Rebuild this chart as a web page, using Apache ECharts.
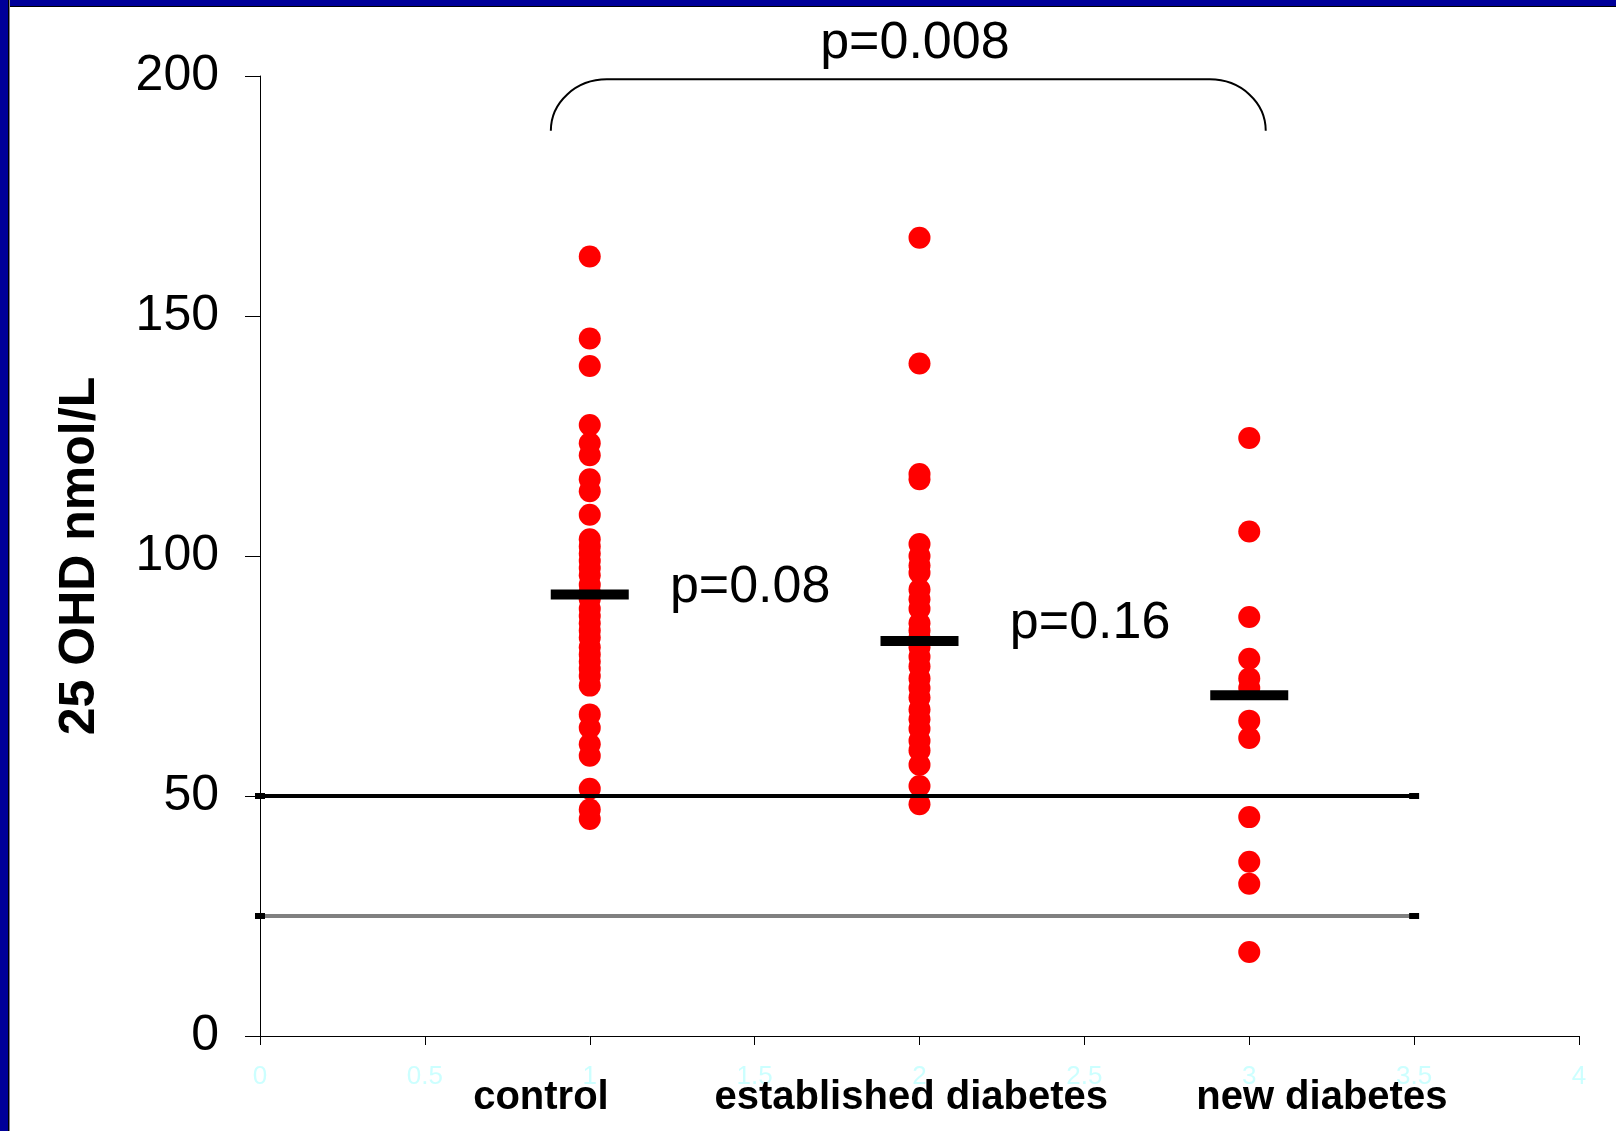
<!DOCTYPE html>
<html>
<head>
<meta charset="utf-8">
<title>25 OHD nmol/L</title>
<script src="https://cdn.jsdelivr.net/npm/echarts@6/dist/echarts.min.js"></script>
<style>
  html, body { margin: 0; padding: 0; background: #fff; }
  #chart { position: absolute; left: 0; top: 0; width: 1616px; height: 1131px; }
  .frame-top { position: absolute; left: 0; top: 0; width: 1616px; height: 6px; background: #000099; border-bottom: 1px solid #000; }
  .frame-left { position: absolute; left: 0; top: 0; width: 8px; height: 1131px; background: #000099; border-right: 1px solid #000; box-shadow: 1px 0 0 #888; }
</style>
</head>
<body>
<div id="chart"></div>
<div class="frame-top"></div>
<div class="frame-left"></div>
<script>
// group positions on the x axis and their names
const groupX = [1, 2, 3];
const groupNames = ['control', 'established diabetes', 'new diabetes'];
const groupNamePos = [0.852, 1.975, 3.22];

// 25 OHD values, nmol/L
const controlValues = [162.4, 145.3, 139.6, 127.3, 123.5, 121, 116, 113.5, 108.6,
  103.5, 102, 100.5, 99, 97.5, 96, 94, 92.5, 91, 89, 87.5, 86, 84.5, 83, 81, 79.5, 78, 76.5, 75, 73,
  67, 64.2, 60.8, 58.4, 51.5, 47.2, 45.2];
const establishedValues = [166.3, 140.1, 117.1, 116,
  102.5, 100, 98, 96.5, 93, 91, 89, 86, 84.5, 83, 81, 79, 77, 74.5, 72.5, 70.5, 68, 66, 64, 61.5, 59.5, 56.5,
  52.1, 48.3];
const newValues = [124.6, 105.1, 87.3, 78.6, 74.5, 72.5, 65.7, 62.1, 45.6, 36.3, 31.7, 17.5];

// group means (black bars)
const groupMeans = [92, 82.3, 71];

// reference lines
const refLineEnds = [0, 3.5];
const refLevels = [50, 25];

// bracket between control and new diabetes: [left x, right x, bottom y, top y]
const bracket = [0.882, 3.05, 188.6, 199.3];

// p-value annotations
const pTexts = ['p=0.008', 'p=0.08', 'p=0.16'];
const pX = [1.986, 1.243, 2.274];
const pY = [206.8, 93.5, 85.9];
const pAlign = ['center', 'left', 'left'];

const allGroups = [controlValues, establishedValues, newValues];
const pointData = [];
allGroups.forEach((vals, i) => {
  vals.forEach(v => pointData.push([groupX[i], v]));
});

const font = "'Liberation Sans', Arial, sans-serif";

const chart = echarts.init(document.getElementById('chart'), null, { renderer: 'canvas' });
chart.setOption({
  animation: false,
  backgroundColor: '#ffffff',
  grid: { left: 260, right: 37, top: 76, bottom: 95 },
  xAxis: [{
    type: 'value',
    min: 0,
    max: 4,
    interval: 0.5,
    splitLine: { show: false },
    axisLine: { show: true, onZero: false, lineStyle: { color: '#000', width: 1 } },
    axisTick: { show: true, length: 9, lineStyle: { color: '#000' } },
    axisLabel: {
      color: '#ccffff',
      fontFamily: font,
      fontSize: 26,
      margin: 28,
      formatter: v => String(v)
    }
  }, {
    type: 'value',
    min: 0,
    max: 4,
    position: 'bottom',
    splitLine: { show: false },
    axisLine: { show: false },
    axisTick: { show: false },
    axisLabel: {
      customValues: groupNamePos,
      color: '#000',
      fontFamily: font,
      fontWeight: 'bold',
      fontSize: 40,
      margin: 42,
      formatter: v => {
        let best = 0;
        groupNamePos.forEach((p, i) => {
          if (Math.abs(p - v) < Math.abs(groupNamePos[best] - v)) best = i;
        });
        return groupNames[best];
      }
    }
  }],
  yAxis: {
    type: 'value',
    min: 0,
    max: 200,
    interval: 50,
    name: '25 OHD nmol/L',
    nameLocation: 'middle',
    nameRotate: 90,
    nameGap: 155,
    nameTextStyle: { color: '#000', fontFamily: font, fontWeight: 'bold', fontSize: 50 },
    splitLine: { show: false },
    axisLine: { show: true, lineStyle: { color: '#000', width: 1 } },
    axisTick: { show: true, length: 15, lineStyle: { color: '#000' } },
    axisLabel: { color: '#000', fontFamily: font, fontSize: 50, margin: 41 }
  },
  series: [
    {
      name: 'values',
      type: 'scatter',
      symbol: 'circle',
      symbolSize: 22,
      itemStyle: { color: '#ff0000', opacity: 1 },
      data: pointData,
      z: 2
    },
    {
      name: 'reference 50',
      type: 'line',
      data: refLineEnds.map(x => [x, refLevels[0]]),
      lineStyle: { color: '#000', width: 4 },
      itemStyle: { color: '#000' },
      symbol: 'rect',
      symbolSize: [10, 6],
      showSymbol: true,
      z: 3
    },
    {
      name: 'reference 25',
      type: 'line',
      data: refLineEnds.map(x => [x, refLevels[1]]),
      lineStyle: { color: '#808080', width: 4 },
      itemStyle: { color: '#000' },
      symbol: 'rect',
      symbolSize: [10, 6],
      showSymbol: true,
      z: 3
    },
    {
      name: 'means',
      type: 'scatter',
      symbol: 'rect',
      symbolSize: [78, 10],
      itemStyle: { color: '#000', opacity: 1 },
      data: groupMeans.map((m, i) => [groupX[i], m]),
      z: 4
    },
    {
      name: 'bracket',
      type: 'custom',
      clip: false,
      data: [bracket],
      renderItem: function (params, api) {
        const lb = api.coord([api.value(0), api.value(2)]);
        const rt = api.coord([api.value(1), api.value(3)]);
        const L = lb[0], B = lb[1], R = rt[0], T = rt[1];
        const rx = 56, ry = B - T, k = 0.5523;
        const d = 'M' + L + ',' + B +
          ' C' + L + ',' + (B - k * ry) + ' ' + (L + rx - k * rx) + ',' + T + ' ' + (L + rx) + ',' + T +
          ' L' + (R - rx) + ',' + T +
          ' C' + (R - rx + k * rx) + ',' + T + ' ' + R + ',' + (B - k * ry) + ' ' + R + ',' + B;
        return {
          type: 'path',
          shape: { pathData: d },
          style: { fill: 'none', stroke: '#000', lineWidth: 2 }
        };
      },
      z: 3
    },
    {
      name: 'p values',
      type: 'scatter',
      clip: false,
      symbolSize: 0,
      silent: true,
      itemStyle: { opacity: 1, color: '#000' },
      data: pTexts.map((t, i) => ({
        value: [pX[i], pY[i]],
        label: {
          show: true,
          position: 'inside',
          formatter: t,
          align: pAlign[i],
          verticalAlign: 'middle',
          color: '#000',
          fontFamily: font,
          fontSize: 52
        }
      })),
      z: 5
    }
  ]
});
</script>
</body>
</html>
